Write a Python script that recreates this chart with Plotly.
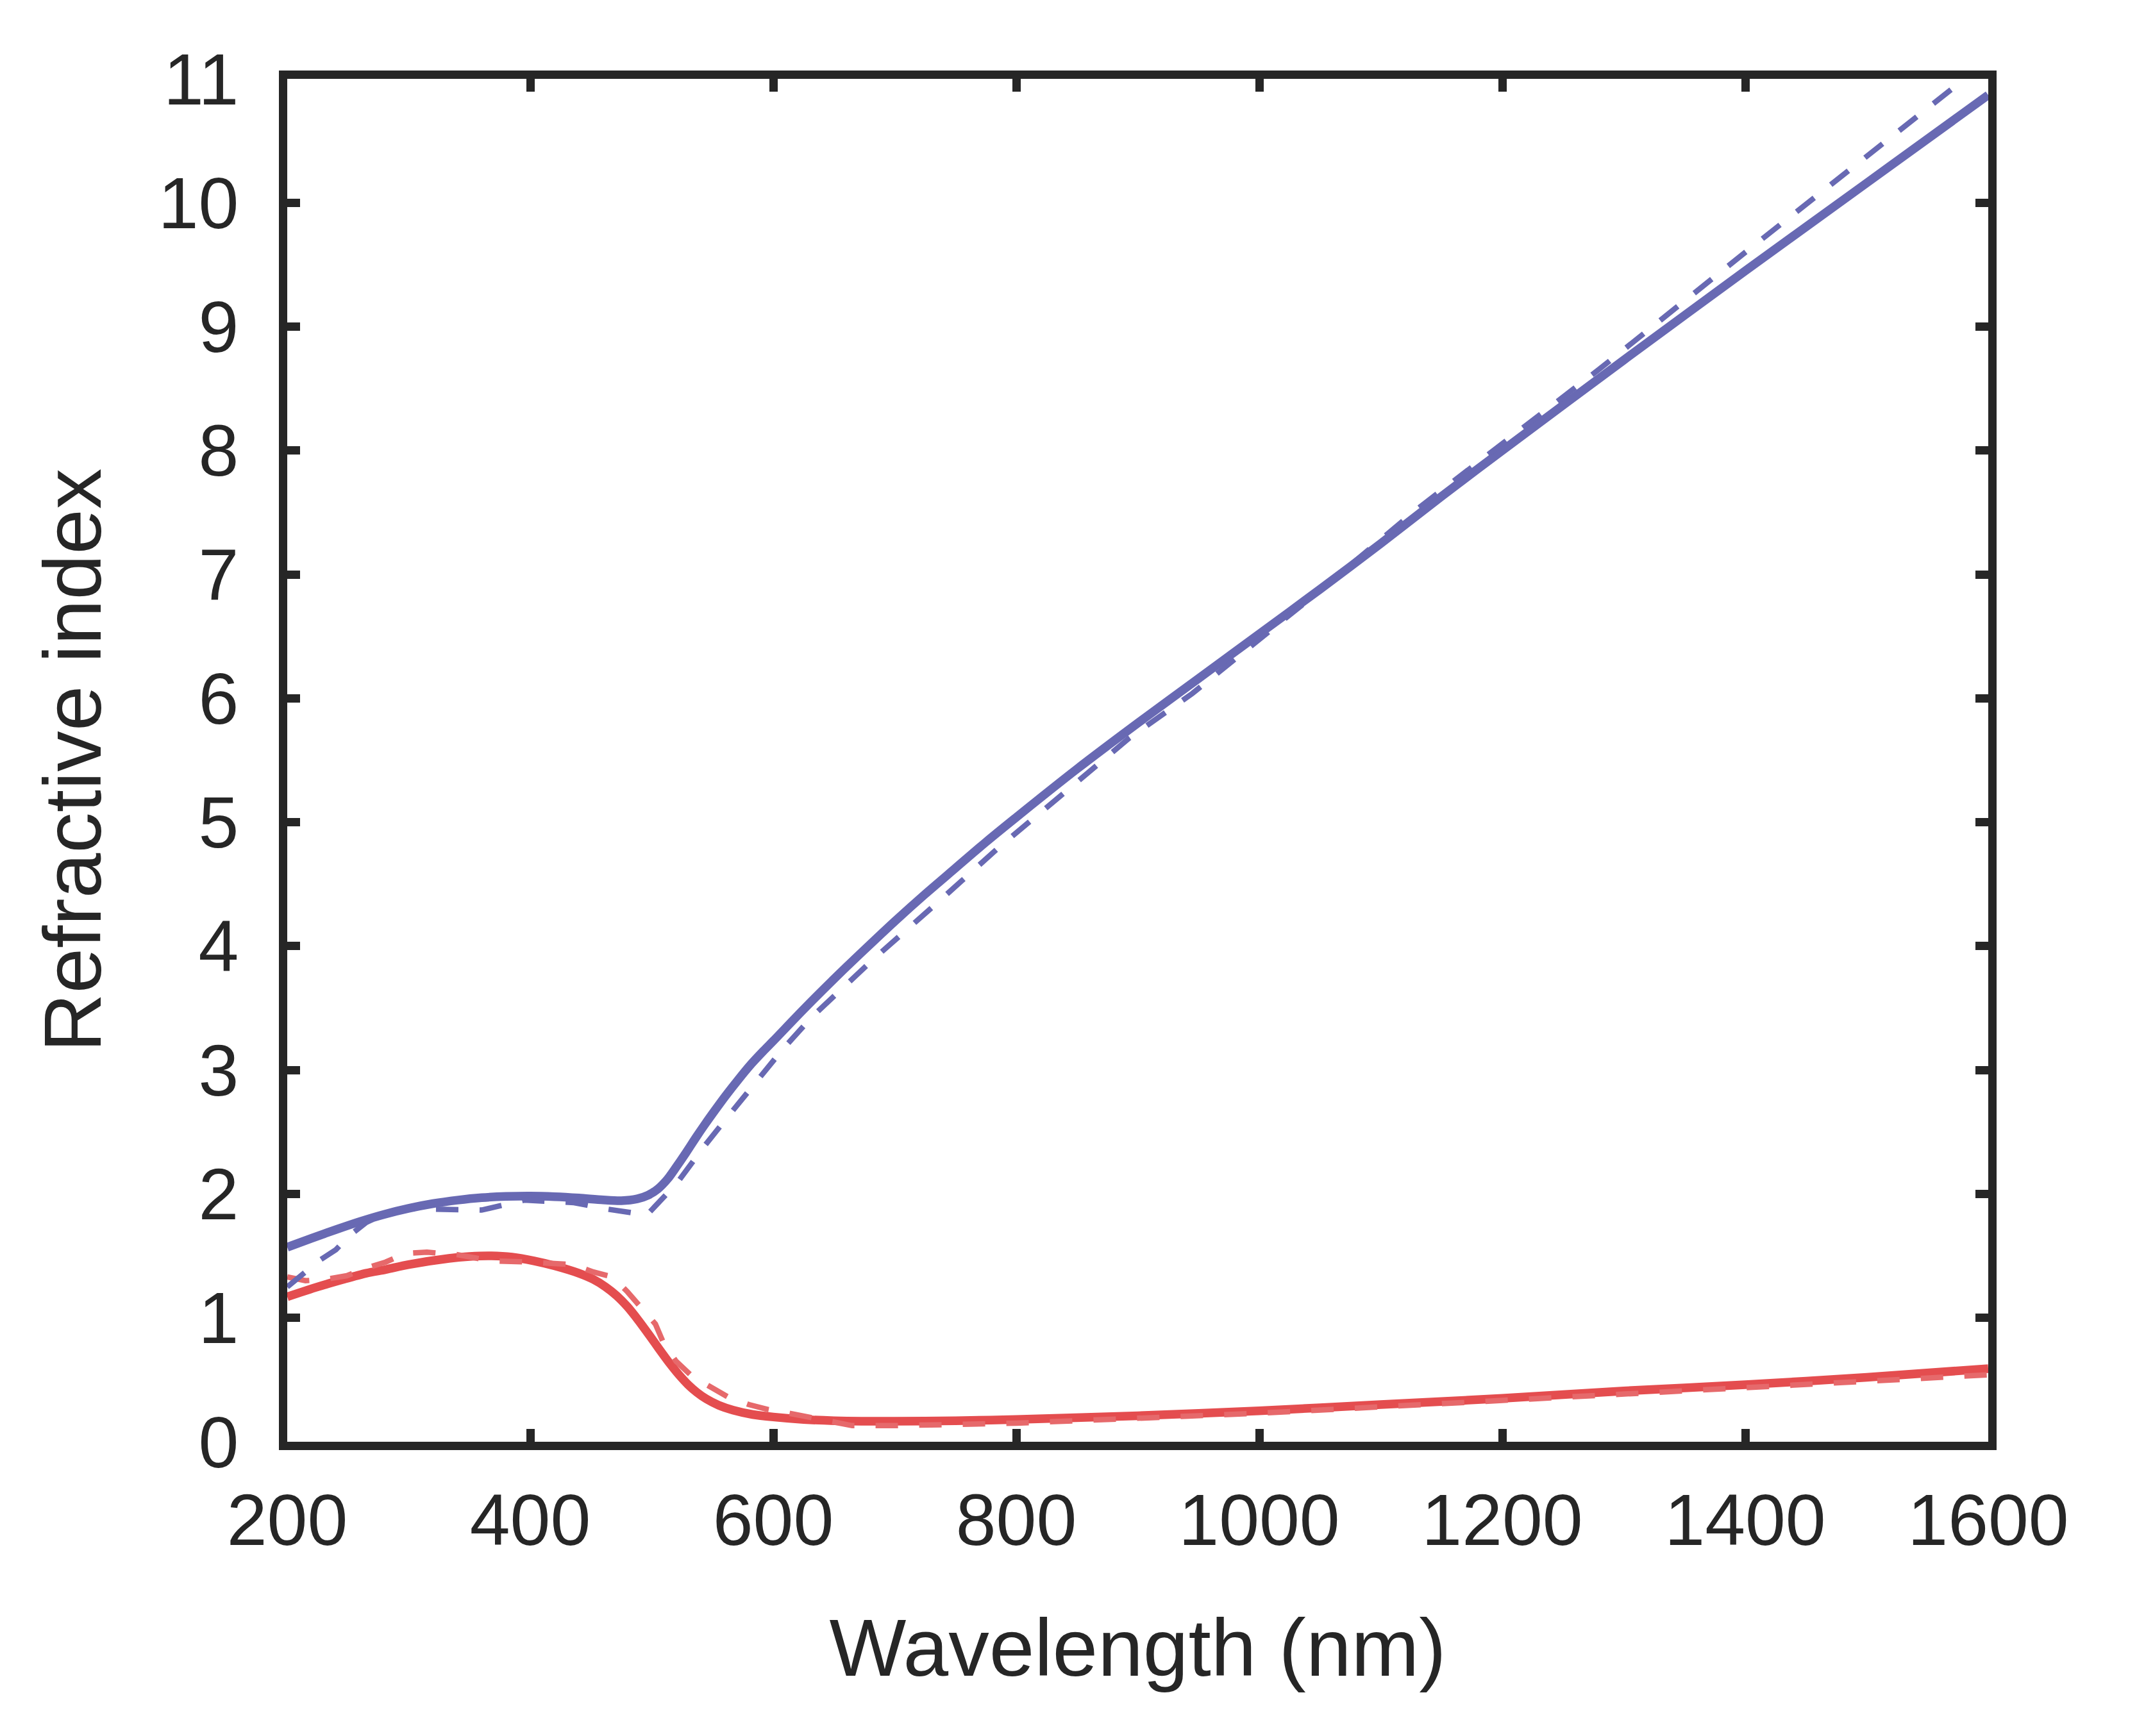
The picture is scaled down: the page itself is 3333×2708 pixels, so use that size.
import plotly.graph_objects as go

# ---------------- data ----------------
# solid blue
wl_k = [200, 220, 240, 260, 280, 300, 320, 340, 360, 380, 400, 420, 440, 460, 475, 488, 497, 505,
        513, 520, 528, 536, 544, 552, 561, 571, 582, 592, 600, 625, 650, 675, 700, 725, 750, 775,
        800, 850, 900, 950, 1000, 1050, 1100, 1150, 1200, 1300, 1400, 1500, 1600]
k_fit = [1.57, 1.642, 1.712, 1.778, 1.836, 1.884, 1.922, 1.95, 1.97, 1.98, 1.983, 1.978, 1.967, 1.952, 1.946, 1.96, 1.99, 2.04,
         2.12, 2.215, 2.33, 2.45, 2.565, 2.675, 2.795, 2.92, 3.05, 3.155, 3.235, 3.49, 3.735, 3.97, 4.20, 4.42, 4.63, 4.84,
         5.04, 5.43, 5.80, 6.16, 6.52, 6.88, 7.25, 7.63, 8.00, 8.73, 9.45, 10.16, 10.87]

# dashed blue
wl_k_meas = [200, 213, 226, 240, 252, 265, 280, 300, 330, 360, 395, 436, 462, 496, 521, 542, 564, 586,
             608, 632, 683, 735, 786, 841, 893, 945, 1000, 1055, 1129, 1200, 1279, 1400, 1500, 1553, 1600]
k_meas = [1.25, 1.36, 1.46, 1.55, 1.67, 1.77, 1.84, 1.88, 1.88, 1.87, 1.95, 1.93, 1.88, 1.83, 2.09, 2.37, 2.64, 2.91,
          3.17, 3.43, 3.90, 4.35, 4.80, 5.25, 5.68, 6.04, 6.47, 6.91, 7.52, 8.06, 8.65, 9.60, 10.37, 10.78, 11.15]

# solid red
wl_n = [200, 225, 246, 265, 281, 300, 333, 350, 368, 385, 403, 420, 440, 452, 462, 471, 480, 489, 498,
        506, 515, 522, 530, 537, 545, 555, 567, 583, 600, 625, 650, 700, 750, 800, 900, 1000, 1100,
        1200, 1300, 1400, 1500, 1600]
n_fit = [1.17, 1.25, 1.31, 1.36, 1.39, 1.43, 1.48, 1.495, 1.50, 1.49, 1.46, 1.42, 1.36, 1.31, 1.25, 1.18, 1.09, 0.98, 0.86,
         0.75, 0.63, 0.545, 0.46, 0.40, 0.345, 0.295, 0.255, 0.22, 0.20, 0.18, 0.17, 0.165, 0.17, 0.18, 0.21, 0.25, 0.30,
         0.35, 0.41, 0.46, 0.52, 0.59]

# dashed red
wl_n_meas = [200, 215, 231, 249, 268, 281, 297, 315, 340, 368, 400, 435, 452, 468, 480, 492, 503,
             510, 520, 533, 548, 563, 580, 596, 613, 665, 700, 800, 1000, 1200, 1400, 1600]
n_meas = [1.33, 1.30, 1.31, 1.34, 1.41, 1.45, 1.52, 1.53, 1.51, 1.46, 1.45, 1.43, 1.37, 1.33, 1.21, 1.08, 0.95,
          0.79, 0.65, 0.53, 0.44, 0.36, 0.30, 0.26, 0.23, 0.13, 0.13, 0.15, 0.23, 0.33, 0.44, 0.54]

x_ticks = [200, 400, 600, 800, 1000, 1200, 1400, 1600]
y_ticks = list(range(0, 12))

BLUE = "#6869B3"
RED = "#E44D4F"
RED_LIGHT = "#E6696B"
INK = "#262626"

fig = go.Figure()

fig.add_trace(go.Scatter(x=wl_n, y=n_fit, mode="lines",
                         line=dict(color=RED, width=13.5, shape="spline", smoothing=0.8)))
fig.add_trace(go.Scatter(x=wl_n_meas, y=n_meas, mode="lines",
                         line=dict(color=RED_LIGHT, width=8.5, dash="35px,33px")))
fig.add_trace(go.Scatter(x=wl_k, y=k_fit, mode="lines",
                         line=dict(color=BLUE, width=13.5, shape="spline", smoothing=0.8)))
fig.add_trace(go.Scatter(x=wl_k_meas, y=k_meas, mode="lines",
                         line=dict(color=BLUE, width=8.5, dash="35px,33px")))

axis_style = dict(
    showline=True, linewidth=13, linecolor=INK, mirror="ticks",
    ticks="inside", ticklen=20, tickwidth=13, tickcolor=INK,
    showgrid=False, zeroline=False,
    tickfont=dict(family="Liberation Sans", size=113, color=INK),
)

fig.update_layout(
    width=3333, height=2708,
    margin=dict(l=440, r=240, t=115, b=467),
    paper_bgcolor="white", plot_bgcolor="white",
    showlegend=False,
    font=dict(family="Liberation Sans", color=INK),
    xaxis=dict(range=[200, 1600], tickvals=x_ticks,
               title=dict(text="Wavelength (nm)", font=dict(size=127, color=INK), standoff=98),
               ticklabelstandoff=12, **axis_style),
    yaxis=dict(range=[0, 11], tickvals=y_ticks,
               title=dict(text="Refractive index", font=dict(size=127, color=INK), standoff=52),
               ticklabelstandoff=40, **axis_style),
)

fig.write_html("out.html")
